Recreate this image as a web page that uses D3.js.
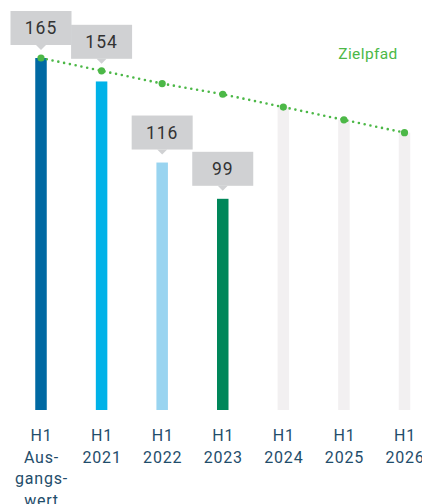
<!DOCTYPE html>
<html>
<head>
<meta charset="utf-8">
<script src="https://cdn.jsdelivr.net/npm/d3@7"></script>
<style>
  html, body { margin: 0; padding: 0; background: #fff; }
  svg { display: block; }
</style>
</head>
<body>
<svg id="chart"></svg>
<script>
const categories = ['base', '2021', '2022', '2023', '2024', '2025', '2026'];
const tickLabels = [
  ['H1', 'Aus-', 'gangs-', 'wert'],
  ['H1', '2021'],
  ['H1', '2022'],
  ['H1', '2023'],
  ['H1', '2024'],
  ['H1', '2025'],
  ['H1', '2026']
];
const actual = [165, 154, 116, 99, null, null, null];
const target = [165, 159, 153, 148, 142, 136, 130];
const barColors = ['#0069a3', '#00b2e8', '#99d4f0', '#00875a', '#f2f0f1', '#f2f0f1', '#f2f0f1'];
const lineLabel = 'Zielpfad';

const width = 422;
const height = 504;
const baseY = 410;
const barW = 11.5;

const svg = d3.select('#chart')
  .attr('width', width)
  .attr('height', height);

const x = d3.scalePoint()
  .domain(categories)
  .range([41, 404.5]);
const y = d3.scaleLinear()
  .domain([0, 165])
  .range([baseY, 58]);

// bars: actual values, gray placeholder to target for future years
svg.selectAll('rect.bar')
  .data(categories)
  .enter()
  .append('rect')
  .attr('class', 'bar')
  .attr('x', (d) => x(d) - barW / 2)
  .attr('width', barW)
  .attr('y', (d, i) => y(actual[i] != null ? actual[i] : target[i]))
  .attr('height', (d, i) => baseY - y(actual[i] != null ? actual[i] : target[i]))
  .attr('fill', (d, i) => barColors[i]);

// target path
const line = d3.line()
  .x((d, i) => x(categories[i]))
  .y((d) => y(d));
svg.append('path')
  .datum(target)
  .attr('d', line)
  .attr('fill', 'none')
  .attr('stroke', '#4cb847')
  .attr('stroke-width', 2.6)
  .attr('stroke-linecap', 'round')
  .attr('stroke-dasharray', '0 5.9');
svg.selectAll('circle.dot')
  .data(target)
  .enter()
  .append('circle')
  .attr('class', 'dot')
  .attr('cx', (d, i) => x(categories[i]))
  .attr('cy', (d) => y(d))
  .attr('r', 3.6)
  .attr('fill', '#4cb847');

svg.append('text')
  .attr('x', 368)
  .attr('y', 59)
  .attr('text-anchor', 'middle')
  .attr('fill', '#4cb847')
  .style('font-family', 'Roboto, sans-serif')
  .style('font-size', '15.5px')
  .style('letter-spacing', '0.4px')
  .text(lineLabel);

// value callouts
const boxW = 61, boxH = 34;
const callouts = svg.selectAll('g.callout')
  .data(categories.filter((d, i) => actual[i] != null))
  .enter()
  .append('g')
  .attr('class', 'callout')
  .attr('transform', (d, i) => {
    let bottom = y(actual[i]) - 13;
    if (y(actual[i]) > y(target[i]) && bottom - boxH < y(target[i]) + 4) {
      bottom = y(target[i]) - 12;
    }
    return 'translate(' + x(d) + ',' + bottom + ')';
  });
callouts.append('rect')
  .attr('x', -boxW / 2)
  .attr('y', -boxH)
  .attr('width', boxW)
  .attr('height', boxH)
  .attr('fill', '#d0d1d3');
callouts.append('path')
  .attr('d', 'M-5,0L5,0L0,5Z')
  .attr('fill', '#d0d1d3');
callouts.append('text')
  .attr('y', -boxH / 2)
  .attr('dy', '0.36em')
  .attr('text-anchor', 'middle')
  .attr('fill', '#333')
  .style('font-family', 'Roboto, sans-serif')
  .style('font-size', '17.5px')
  .style('letter-spacing', '1px')
  .text((d, i) => actual[i]);

// x axis with multi-line labels
const xAxis = d3.axisBottom(x).tickSize(0).tickFormat('');
const axisG = svg.append('g')
  .attr('transform', 'translate(0,' + baseY + ')')
  .call(xAxis);
axisG.select('.domain').remove();
axisG.selectAll('.tick text').remove();
axisG.selectAll('.tick')
  .append('text')
  .attr('text-anchor', 'middle')
  .attr('fill', '#1f4d6b')
  .style('font-family', 'Roboto, sans-serif')
  .style('font-size', '16px')
  .style('letter-spacing', '0.8px')
  .each(function (d, i) {
    const t = d3.select(this);
    tickLabels[i].forEach((s, j) => {
      t.append('tspan')
        .attr('x', 0)
        .attr('y', 31 + j * 21.5)
        .text(s);
    });
  });
</script>
</body>
</html>
